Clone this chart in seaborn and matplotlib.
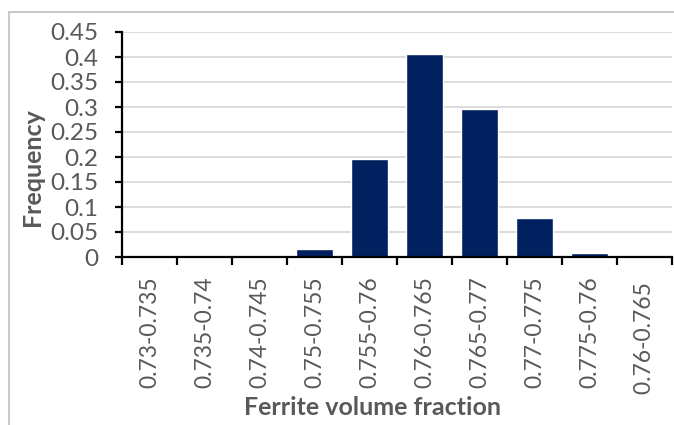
import matplotlib
matplotlib.use("Agg")
import matplotlib.pyplot as plt
import seaborn as sns
import pandas as pd
from matplotlib.patches import Rectangle

categories = ["0.73-0.735", "0.735-0.74", "0.74-0.745", "0.75-0.755", "0.755-0.76",
              "0.76-0.765", "0.765-0.77", "0.77-0.775", "0.775-0.76", "0.76-0.765 "]
frequency = [0.0, 0.0, 0.0, 0.016, 0.196, 0.406, 0.296, 0.079, 0.008, 0.0]
yticks = [0, 0.05, 0.1, 0.15, 0.2, 0.25, 0.3, 0.35, 0.4, 0.45]
ytick_labels = ["0", "0.05", "0.1", "0.15", "0.2", "0.25", "0.3", "0.35", "0.4", "0.45"]

sns.set_theme(style="white")
plt.rcParams['font.family'] = ['Lato', 'DejaVu Sans']

df = pd.DataFrame({"cat": categories, "freq": frequency})

W, H = 674, 425
fig = plt.figure(figsize=(W / 100, H / 100), dpi=100)
fig.patches.append(Rectangle((9 / W, -0.1), 1.2, (H - 12) / H + 0.1, transform=fig.transFigure,
                             fill=False, edgecolor="#BFBFBF", linewidth=1.2))
ax = fig.add_axes([122 / W, (H - 257) / H, 550 / W, 225 / H])

sns.barplot(data=df, x="cat", y="freq", color="#002060", width=0.69, saturation=1, ax=ax, zorder=3)

ax.set_xlim(-0.5, len(categories) - 0.5)
ax.set_ylim(0, 0.45)
ax.set_yticks(yticks)
ax.set_yticklabels(ytick_labels)
ax.yaxis.grid(True, color="#D9D9D9", linewidth=1.3, zorder=0)
ax.set_axisbelow(True)

for s in ["top", "right"]:
    ax.spines[s].set_visible(False)
for s in ["left", "bottom"]:
    ax.spines[s].set_color("black")
    ax.spines[s].set_linewidth(1.6)
    ax.spines[s].set_zorder(5)

ax.set_xticks([i - 0.5 for i in range(len(categories) + 1)], minor=True)
ax.tick_params(axis="x", which="minor", bottom=True, length=6, width=1.6, color="black")
ax.tick_params(axis="x", which="major", bottom=True, length=0, pad=14,
               labelsize=16.5, labelcolor="#595959", labelrotation=90)
ax.tick_params(axis="y", which="major", left=True, length=5, width=1.6, color="black",
               pad=12, labelsize=17.5, labelcolor="#595959")

ax.set_xlabel("Ferrite volume fraction", fontsize=18, fontweight="bold", color="#595959")
ax.set_ylabel("Frequency", fontsize=18, fontweight="bold", color="#595959")
ax.xaxis.set_label_coords(0.456, -0.67)
ax.yaxis.set_label_coords(-0.162, 0.4)
ax.xaxis.label.set_va("center")
ax.yaxis.label.set_va("center")

fig.savefig("out.png", dpi=100)
